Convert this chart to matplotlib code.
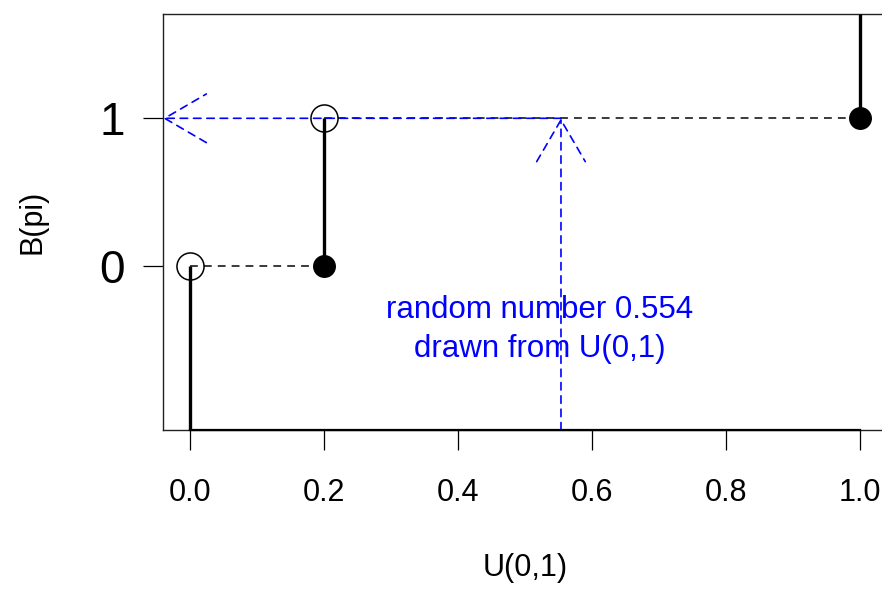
import matplotlib
matplotlib.use('Agg')
import matplotlib.pyplot as plt

plt.rcParams['font.family'] = ['Liberation Sans', 'DejaVu Sans']

# ---- data ----
u_value = 0.554
x_ticks = [0.0, 0.2, 0.4, 0.6, 0.8, 1.0]
x_tick_labels = ['0.0', '0.2', '0.4', '0.6', '0.8', '1.0']
y_ticks = [0, 1]
y_tick_labels = ['0', '1']
open_x = [0.0, 0.2]
open_y = [0, 1]
closed_x = [0.2, 1.0]
closed_y = [0, 1]
x_range = (0.0, 1.0)
y_range = (-1.0, 1.6)
annotation = "random number 0.554\ndrawn from U(0,1)"
annotation_pos = (0.522, -0.425)

# R-style 4% expansion
def expand(r):
    d = (r[1] - r[0]) * 0.04
    return (r[0] - d, r[1] + d)

xlim = expand(x_range)
ylim = expand(y_range)

fig = plt.figure(figsize=(8.82, 5.90), dpi=100)
ax = fig.add_axes([163 / 882, 160 / 590, 723.6 / 882, 416 / 590])
ax.set_xlim(*xlim)
ax.set_ylim(*ylim)

# vertical solid segments
vx = [open_x[0], closed_x[0], closed_x[1]]
vy0 = [ylim[0], closed_y[0], closed_y[1]]
vy1 = [open_y[0], open_y[1], ylim[1]]
for x, a, b in zip(vx, vy0, vy1):
    ax.plot([x, x], [a, b], color='black', lw=2.4, solid_capstyle='butt', zorder=3)

# horizontal dashed segments
for x0, x1, y in zip(open_x, closed_x, open_y):
    ax.plot([x0, x1], [y, y], color='#222222', lw=1.25, linestyle=(0, (4.5, 3.5)), zorder=2)

# blue arrows
arrow_kw = dict(arrowstyle='->,head_length=3.0,head_width=1.75', color='blue', lw=1.2,
                linestyle=(0, (4.5, 3.5)), shrinkA=0, shrinkB=0, mutation_scale=10)
ax.annotate('', xy=(u_value, open_y[1]), xytext=(u_value, ylim[0]), arrowprops=arrow_kw, zorder=4)
ax.annotate('', xy=(xlim[0], open_y[1]), xytext=(u_value, open_y[1]), arrowprops=arrow_kw, zorder=4)

# points
ax.plot(open_x, open_y, 'o', markersize=19.5, markerfacecolor='none', markeredgecolor='black',
        markeredgewidth=1.1, zorder=5)
ax.plot(closed_x, closed_y, 'o', markersize=15.5, color='black', zorder=5)

ax.text(annotation_pos[0], annotation_pos[1], annotation, color='blue', fontsize=22.5,
        ha='center', va='center', multialignment='center', linespacing=1.38, zorder=6)

# axes styling
for s in ['left', 'top', 'bottom', 'right']:
    ax.spines[s].set_linewidth(1.0)
    ax.spines[s].set_color('#222222')
ax.plot(x_range, [ylim[0], ylim[0]], color='black', lw=1.6, clip_on=False, zorder=6)

ax.set_xticks(x_ticks)
ax.set_xticklabels(x_tick_labels)
ax.set_yticks(y_ticks)
ax.set_yticklabels(y_tick_labels)
ax.tick_params(axis='x', length=14.4, width=0.9, pad=20, labelsize=22)
ax.tick_params(axis='y', length=14.4, width=0.9, pad=13, labelsize=33)

ax.set_xlabel('U(0,1)', fontsize=22)
ax.xaxis.set_label_coords((525 - 163) / 723.6, (430 - 568) / 416)
ax.xaxis.label.set_va('center')
ax.set_ylabel('B(pi)', fontsize=22)
ax.yaxis.set_label_coords((33 - 163) / 723.6, (430 - 222) / 416)
ax.yaxis.label.set_va('center')

fig.savefig('out.png', dpi=100)
